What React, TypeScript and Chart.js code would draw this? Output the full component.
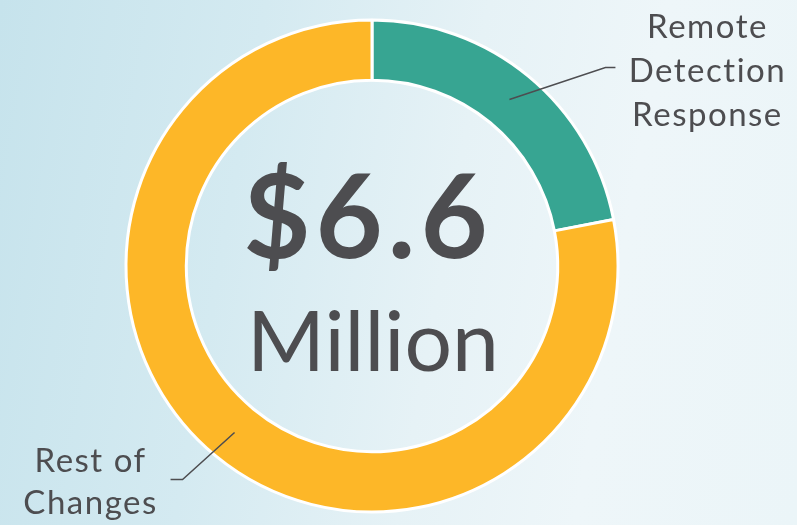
import React, { useEffect, useRef } from "react";
import { Chart, registerables } from "chart.js";

Chart.register(...registerables);

const categories = ["Remote Detection Response", "Rest of Changes"];
const values = [1.45, 5.15];
const labelLines = [["Remote", "Detection", "Response"], ["Rest of", "Changes"]];
const centerTitle = "$6.6";
const centerSubtitle = "Million";

const colors = ["#37a592", "#fdb728"];
const textColor = "#4d4d50";
const FONT = "Lato, 'Noto Sans', sans-serif";

const labelPlugin = {
  id: "labelPlugin",
  afterDraw(chart: any) {
    const ctx = chart.ctx as any;
    const meta = chart.getDatasetMeta(0);
    const arcs = meta.data as any[];
    if (!arcs.length) return;
    const cx = arcs[0].x;
    const cy = arcs[0].y;

    ctx.save();
    ctx.fillStyle = textColor;
    ctx.textAlign = "center";
    ctx.textBaseline = "alphabetic";
    ctx.letterSpacing = "5px";
    ctx.font = `700 116px ${FONT}`;
    ctx.fillText(centerTitle, cx - 4, cy - 8);
    ctx.letterSpacing = "0px";
    ctx.font = `400 84px ${FONT}`;
    ctx.fillText(centerSubtitle, cx + 1, cy + 105);

    const cfg = [
      { elbow: [96, -32], end: [10, 0], textDx: 92, baselines: [-30, 14, 58] },
      { elbow: [-52, 47], end: [-12, 0], textDx: -80, baselines: [-7, 35] },
    ];
    arcs.forEach((arc: any, i: number) => {
      const mid = (arc.startAngle + arc.endAngle) / 2;
      const r = (arc.innerRadius + arc.outerRadius) / 2;
      const ax = cx + Math.cos(mid) * r;
      const ay = cy + Math.sin(mid) * r;
      const c = cfg[i];
      const ex = ax + c.elbow[0];
      const ey = ay + c.elbow[1];
      const fx = ex + c.end[0];
      const fy = ey + c.end[1];
      ctx.strokeStyle = textColor;
      ctx.lineWidth = 1.5;
      ctx.beginPath();
      ctx.moveTo(ax, ay);
      ctx.lineTo(ex, ey);
      ctx.lineTo(fx, fy);
      ctx.stroke();
      ctx.font = `400 33px ${FONT}`;
      ctx.letterSpacing = "1.5px";
      labelLines[i].forEach((line, j) => {
        ctx.fillText(line, fx + c.textDx, fy + c.baselines[j]);
      });
      ctx.letterSpacing = "0px";
    });
    ctx.restore();
  },
};

export default function App() {
  const ref = useRef<HTMLCanvasElement | null>(null);
  useEffect(() => {
    if (!ref.current) return;
    const chart = new Chart(ref.current, {
      type: "doughnut",
      data: {
        labels: categories,
        datasets: [
          {
            data: values,
            backgroundColor: colors,
            borderColor: "#ffffff",
            borderWidth: 3,
            hoverOffset: 0,
          },
        ],
      },
      options: {
        animation: false,
        responsive: true,
        maintainAspectRatio: false,
        cutout: "75.5%",
        layout: { padding: { left: 124.5, top: 18.5, right: 177.5, bottom: 11.5 } },
        plugins: {
          legend: { display: false },
          tooltip: { enabled: false },
        },
      },
      plugins: [labelPlugin],
    } as any);
    return () => chart.destroy();
  }, []);

  return (
    <div
      style={{
        position: "fixed",
        left: 0,
        top: 0,
        width: 797,
        height: 525,
        overflow: "hidden",
        background:
          "linear-gradient(100deg, #c6e3ec 0%, #d4eaf1 30%, #e6f2f6 55%, #eef6f9 75%, #ebf5f8 100%)",
      }}
    >
      <canvas ref={ref} width={797} height={525} />
    </div>
  );
}
